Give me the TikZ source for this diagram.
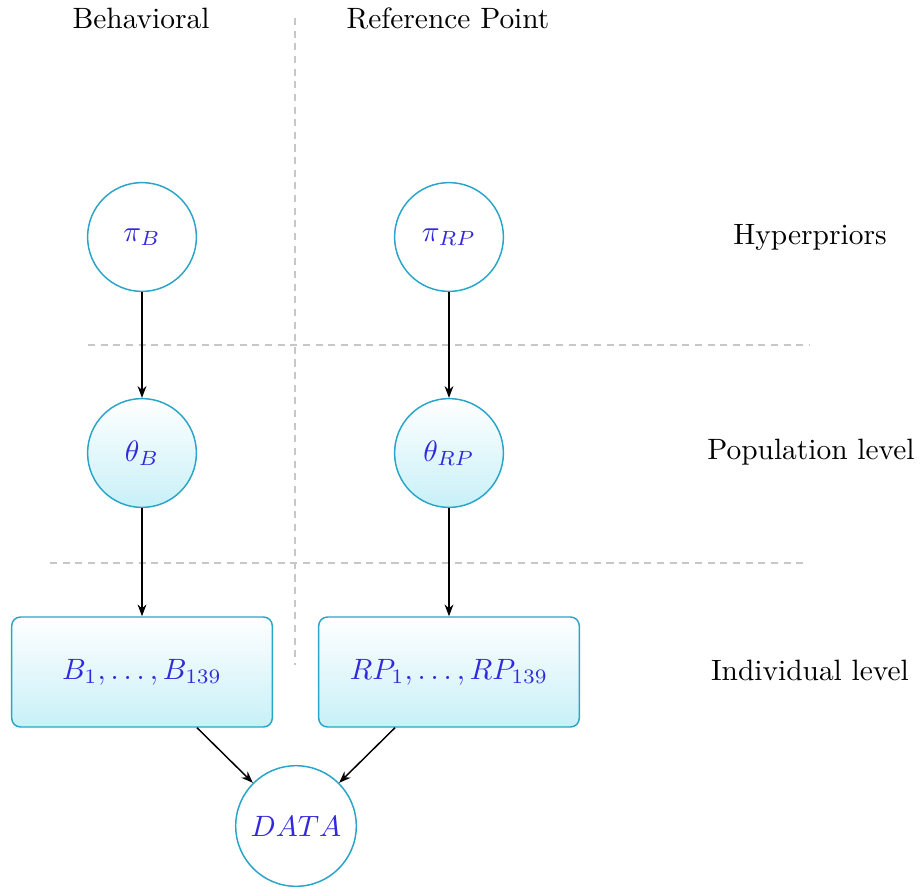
\documentclass[tikz,border=0pt]{standalone}
\usetikzlibrary{arrows.meta,calc}
\definecolor{bord}{RGB}{40,165,200}
\definecolor{txt}{RGB}{50,40,220}
\definecolor{fillc}{RGB}{200,240,248}
\begin{document}
\begin{tikzpicture}[x=0.34pt,y=-0.34pt,
  hyper/.style={circle,draw=bord,line width=0.5pt,minimum size=37pt,inner sep=0pt,text=txt,fill=white},
  popc/.style={circle,draw=bord,line width=0.5pt,minimum size=37pt,inner sep=0pt,text=txt,top color=white,bottom color=fillc},
  indbox/.style={rounded corners=3pt,draw=bord,line width=0.5pt,minimum width=88.6pt,minimum height=37.4pt,text=txt,top color=white,bottom color=fillc},
  datac/.style={circle,draw=bord,line width=0.5pt,minimum size=41pt,inner sep=0pt,text=txt,fill=white},
  sep/.style={draw=black!22,line width=0.4pt,dash pattern=on 2.4pt off 1.9pt},
  arr/.style={-{Stealth[length=4pt,width=3pt]},line width=0.5pt},
  lab/.style={font=\normalsize}]
\useasboundingbox (0,0) rectangle (920,887);
% separators
\coordinate (v1) at (295,18); \coordinate (v2) at (295,665);
\coordinate (h1a) at (88,345); \coordinate (h1b) at (810,345);
\coordinate (h2a) at (50,563); \coordinate (h2b) at (805,563);
\draw[sep] (v1) -- (v2);
\draw[sep] (h1a) -- (h1b);
\draw[sep] (h2a) -- (h2b);
% headers
\node[lab] (hb) at (141,18) {Behavioral};
\node[lab] (hrp) at (448,18) {Reference Point};
\node[lab] (lh) at (810,237) {Hyperpriors};
\node[lab] (lp) at (811,452) {Population level};
\node[lab] (li) at (810,670) {Individual level};
% nodes
\node[hyper] (piB) at (142,237) {$\pi_B$};
\node[hyper] (piRP) at (449,237) {$\pi_{RP}$};
\node[popc] (thB) at (142,453) {$\theta_B$};
\node[popc] (thRP) at (449,453) {$\theta_{RP}$};
\node[indbox] (bB) at (142,672) {$B_1,\ldots,B_{139}$};
\node[indbox] (bRP) at (449,672) {$RP_1,\ldots,RP_{139}$};
\node[datac] (data) at (296,826) {$DATA$};
% arrows
\draw[arr] (piB) -- (thB);
\draw[arr] (piRP) -- (thRP);
\draw[arr] (thB) -- (bB);
\draw[arr] (thRP) -- (bRP);
\draw[arr] ($(bB.south)+(55,0)$) -- (data.135);
\draw[arr] ($(bRP.south)+(-54,0)$) -- (data.45);
\end{tikzpicture}
\end{document}
